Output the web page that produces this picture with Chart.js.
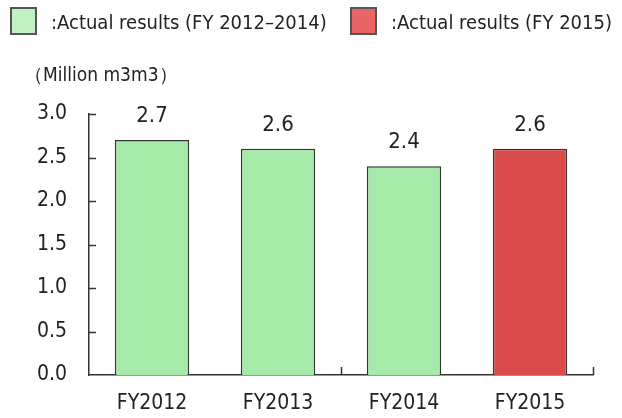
<!DOCTYPE html>
<html><head><meta charset="utf-8">
<script src="https://cdn.jsdelivr.net/npm/chart.js@4"></script>
<style>
body{margin:0;width:622px;height:418px;overflow:hidden;background:#fff;font-family:"DejaVu Sans Condensed","Liberation Sans Narrow",sans-serif;color:#222}
#wrap{position:relative;width:622px;height:418px}
canvas{position:absolute;left:0;top:0}
.box{position:absolute;width:27px;height:28px;border:2px solid #555;box-sizing:border-box}
.lt{position:absolute;font-size:20px;line-height:22px;white-space:nowrap}
</style></head><body>
<div id="wrap">
<canvas id="c" width="622" height="418"></canvas>
<div class="box" style="left:10px;top:7px;background:#c3f1c3"></div>
<div class="lt" style="left:51px;top:11px">:Actual results (FY 2012–2014)</div>
<div class="box" style="left:350px;top:7px;background:#e96464"></div>
<div class="lt" style="left:391px;top:11px">:Actual results (FY 2015)</div>
<div class="lt" style="left:24px;top:63px;font-size:19px">（Million m3m3）</div>
</div>
<script>
const categories = ["FY2012", "FY2013", "FY2014", "FY2015"];
const values = [2.7, 2.6, 2.4, 2.6];
const barColors = ["#a6eaa9", "#a6eaa9", "#a6eaa9", "#dc4b4b"];
const yTicks = [0, 0.5, 1.0, 1.5, 2.0, 2.5, 3.0];

const FONT = '"DejaVu Sans Condensed","Liberation Sans Narrow",sans-serif';

const inwardTicks = {
  id: 'inwardTicks',
  afterDraw(chart) {
    const ctx = chart.ctx, y = chart.scales.y, x = chart.scales.x;
    const area = chart.chartArea;
    ctx.save();
    ctx.strokeStyle = '#333';
    ctx.lineWidth = 1.5;
    ctx.beginPath();
    yTicks.forEach(v => {
      if (v === 0) return;
      const py = Math.round(y.getPixelForValue(v)) + 0.5;
      ctx.moveTo(area.left, py);
      ctx.lineTo(area.left + 7, py);
    });
    [1, 3].forEach(i => {
      let px;
      if (i === categories.length - 1) px = area.right;
      else px = (x.getPixelForValue(i) + x.getPixelForValue(i + 1)) / 2;
      px = Math.round(px) + 0.5;
      ctx.moveTo(px, area.bottom);
      ctx.lineTo(px, area.bottom - 8);
    });
    ctx.stroke();
    ctx.restore();
  }
};

const valueLabels = {
  id: 'valueLabels',
  afterDatasetsDraw(chart) {
    const ctx = chart.ctx;
    const meta = chart.getDatasetMeta(0);
    ctx.save();
    ctx.fillStyle = '#222';
    ctx.font = '22px ' + FONT;
    ctx.textAlign = 'center';
    ctx.textBaseline = 'middle';
    meta.data.forEach((bar, i) => {
      ctx.fillText(values[i].toFixed(1), bar.x, bar.y - 24);
    });
    ctx.restore();
  }
};

new Chart(document.getElementById('c'), {
  type: 'bar',
  data: {
    labels: categories,
    datasets: [{
      data: values,
      backgroundColor: barColors,
      borderColor: '#333',
      borderWidth: 1.5,
      barPercentage: 0.59,
      categoryPercentage: 1.0
    }]
  },
  options: {
    responsive: false,
    animation: false,
    devicePixelRatio: 1,
    layout: { padding: { top: 114, right: 29, left: 0, bottom: 0 } },
    plugins: { legend: { display: false }, tooltip: { enabled: false } },
    scales: {
      x: {
        grid: { display: false, drawTicks: false },
        border: { display: true, color: '#333', width: 1.5 },
        ticks: { color: '#222', font: { size: 21, family: FONT }, padding: 16, maxRotation: 0 },
        afterFit(s) { s.height = 43; }
      },
      y: {
        min: 0, max: 3,
        grid: { display: false, drawTicks: false },
        border: { display: true, color: '#333', width: 1.5 },
        ticks: {
          stepSize: 0.5, color: '#222', font: { size: 21, family: FONT }, padding: 22,
          callback: v => Number(v).toFixed(1)
        },
        afterFit(s) { s.width = 89; }
      }
    }
  },
  plugins: [inwardTicks, valueLabels]
});
</script>
</body></html>
